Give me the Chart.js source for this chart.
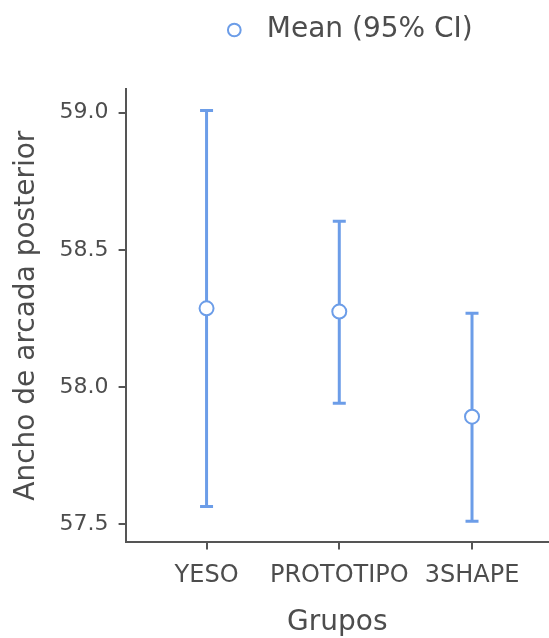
<!DOCTYPE html>
<html>
<head>
<meta charset="utf-8">
<script src="https://cdn.jsdelivr.net/npm/chart.js@4"></script>
<style>
  body { margin:0; background:#fff; }
  #wrap { width:549px; height:638px; }
</style>
</head>
<body>
<div id="wrap"><canvas id="chart" width="549" height="638"></canvas></div>
<script>
// categories and values
const groups = ['YESO', 'PROTOTIPO', '3SHAPE'];
const means = [58.287, 58.275, 57.892];
const lower = [57.565, 57.941, 57.511];
const upper = [59.008, 58.604, 58.269];
const yTicks = [57.5, 58.0, 58.5, 59.0];

const blue = '#6c9de8';
const txt = '#4d4d4d';
const font = 'DejaVu Sans';

// vertical lines, one small dataset per group
const barSets = groups.map((g, i) => ({
    type: 'line',
    label: 'ci-' + g,
    data: [{x: i + 1, y: lower[i]}, {x: i + 1, y: upper[i]}],
    borderColor: blue,
    borderWidth: 3,
    pointRadius: 0,
    order: 2
}));

const capSet = {
    type: 'scatter',
    label: 'caps',
    data: groups.flatMap((g, i) => [{x: i + 1, y: lower[i]}, {x: i + 1, y: upper[i]}]),
    pointStyle: 'line',
    pointRadius: 6.5,
    borderColor: blue,
    borderWidth: 3,
    order: 2
};

const meanSet = {
    type: 'scatter',
    label: 'Mean (95% CI)',
    data: means.map((m, i) => ({x: i + 1, y: m})),
    pointStyle: 'circle',
    pointRadius: 7,
    backgroundColor: '#fff',
    borderColor: blue,
    borderWidth: 2,
    order: 0
};

// extra room under the legend, and push it a bit to the right
const legendGap = {
    id: 'legendGap',
    beforeInit(chart) {
        const fit = chart.legend.fit;
        chart.legend.fit = function () {
            fit.bind(chart.legend)();
            this.height += 35;
        };
    },
    afterLayout(chart) {
        chart.legend.left += 28;
    }
};

new Chart(document.getElementById('chart').getContext('2d'), {
    type: 'scatter',
    data: { datasets: [meanSet, capSet, ...barSets] },
    plugins: [legendGap],
    options: {
        responsive: false,
        animation: false,
        layout: { autoPadding: false, padding: { left: 10, right: 0, top: 6, bottom: 0 } },
        plugins: {
            tooltip: { enabled: false },
            legend: {
                position: 'top',
                fullSize: false,
                labels: {
                    usePointStyle: true,
                    boxWidth: 9, boxHeight: 9,
                    padding: 10,
                    color: txt,
                    font: { family: font, size: 28 },
                    generateLabels: chart => Chart.defaults.plugins.legend.labels.generateLabels(chart)
                        .filter(l => l.text === 'Mean (95% CI)')
                        .map(l => ({ ...l, text: '\u2002' + l.text }))
                }
            }
        },
        scales: {
            x: {
                type: 'linear',
                min: 0.39, max: 3.58,
                border: { display: true, color: '#555', width: 2 },
                grid: { drawOnChartArea: false, drawTicks: true, tickLength: 7, color: '#555', lineWidth: 2 },
                ticks: {
                    stepSize: 1, includeBounds: false, autoSkip: false, maxRotation: 0,
                    color: txt, padding: 12,
                    font: { family: font, size: 24 },
                    callback: v => groups[v - 1] ?? ''
                },
                title: { display: true, text: 'Grupos', color: txt, padding: { top: 5, bottom: 0 }, font: { family: font, size: 28, lineHeight: 1.1 } }
            },
            y: {
                min: 57.434, max: 59.086,
                border: { display: true, color: '#555', width: 2 },
                grid: { drawOnChartArea: false, drawTicks: true, tickLength: 7, color: '#555', lineWidth: 2 },
                afterBuildTicks: axis => { axis.ticks = yTicks.map(v => ({ value: v })); },
                ticks: {
                    color: txt, padding: 10,
                    font: { family: font, size: 22 },
                    callback: v => Number(v).toFixed(1)
                },
                title: { display: true, text: 'Ancho de arcada posterior', color: txt, padding: { top: 0, bottom: 6 }, font: { family: font, size: 28 } }
            }
        }
    }
});
</script>
</body>
</html>
